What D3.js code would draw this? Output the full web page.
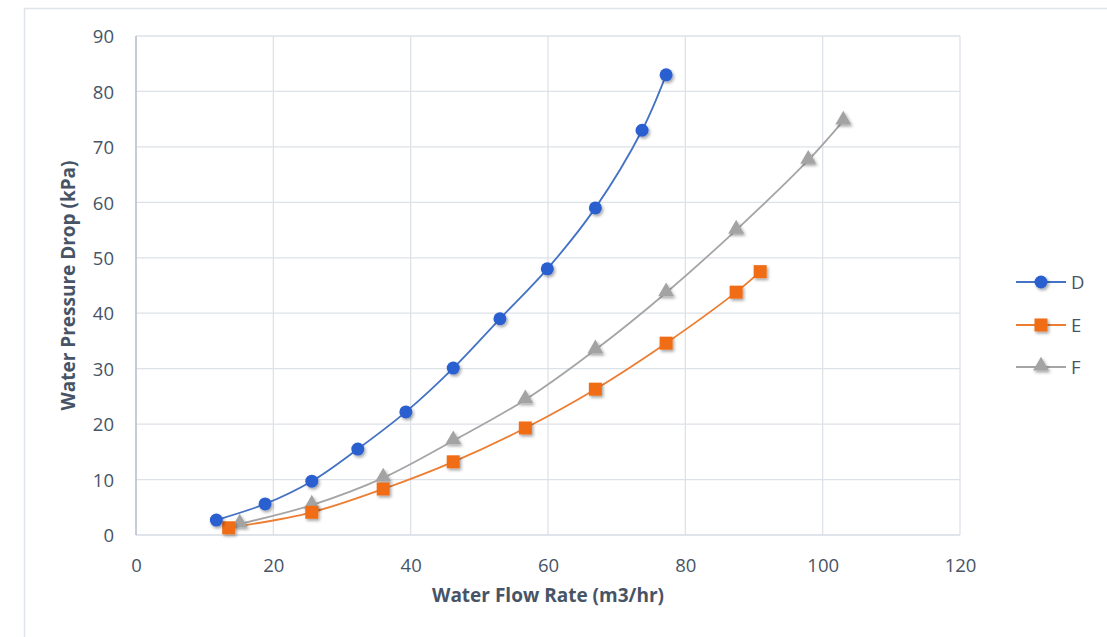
<!DOCTYPE html>
<html><head><meta charset="utf-8">
<script src="https://cdn.jsdelivr.net/npm/d3@7"></script>
<style>body{margin:0;background:#fff;} svg{display:block;}</style>
</head><body>
<svg id="chart" width="1107" height="637"></svg>
<script>
const seriesNames = ["D", "E", "F"];
const dX = [11.7, 18.8, 25.6, 32.3, 39.3, 46.2, 53.0, 59.9, 66.9, 73.7, 77.2];
const dY = [2.7, 5.6, 9.7, 15.5, 22.2, 30.1, 39.0, 48.0, 59.0, 73.0, 83.0];
const eX = [13.5, 25.6, 36.0, 46.2, 56.7, 66.9, 77.2, 87.4, 90.9];
const eY = [1.3, 4.1, 8.3, 13.2, 19.3, 26.3, 34.6, 43.8, 47.5];
const fX = [15.1, 25.6, 36.0, 46.2, 56.7, 66.9, 77.2, 87.4, 97.9, 103.0];
const fY = [2.0, 5.4, 10.3, 17.0, 24.4, 33.4, 43.7, 55.0, 67.6, 74.7];
const xTicks = [0, 20, 40, 60, 80, 100, 120];
const yTicks = [0, 10, 20, 30, 40, 50, 60, 70, 80, 90];
const xTitle = "Water Flow Rate (m3/hr)";
const yTitle = "Water Pressure Drop (kPa)";

const styles = {
  D: {line: "#4472C4", fill: "#2a5ed0", shape: "circle"},
  E: {line: "#ED7D31", fill: "#f06d14", shape: "square"},
  F: {line: "#A5A5A5", fill: "#a3a3a3", shape: "triangle"}
};
const data = [
  {name: "D", pts: dX.map((x, i) => [x, dY[i]])},
  {name: "E", pts: eX.map((x, i) => [x, eY[i]])},
  {name: "F", pts: fX.map((x, i) => [x, fY[i]])}
];

const svg = d3.select("#chart");
const font = "'Open Sans', Lato, sans-serif";
const textCol = "#475466";

// outer border
svg.append("rect").attr("x", 24.5).attr("y", 8.5).attr("width", 1200).attr("height", 700)
  .attr("fill", "none").attr("stroke", "#dfe4ea").attr("stroke-width", 1.5);

const L = 136, R = 960, T = 36, B = 535;
const x = d3.scaleLinear().domain([0, 120]).range([L, R]);
const y = d3.scaleLinear().domain([0, 90]).range([B, T]);

const defs = svg.append("defs");
const f = defs.append("filter").attr("id", "sh").attr("x", "-50%").attr("y", "-50%").attr("width", "200%").attr("height", "200%");
f.append("feDropShadow").attr("dx", 1.5).attr("dy", 2).attr("stdDeviation", 1.6).attr("flood-color", "#000").attr("flood-opacity", 0.35);

// grid
const g = svg.append("g");
g.selectAll(".hg").data(yTicks.filter(d => d > 0)).join("line")
  .attr("x1", L).attr("x2", R).attr("y1", d => y(d)).attr("y2", d => y(d))
  .attr("stroke", "#dde2e9").attr("stroke-width", 1.3);
g.selectAll(".vg").data(xTicks.filter(d => d > 0)).join("line")
  .attr("y1", T).attr("y2", B).attr("x1", d => x(d)).attr("x2", d => x(d))
  .attr("stroke", "#dde2e9").attr("stroke-width", 1.3);
g.append("line").attr("x1", L).attr("x2", R).attr("y1", B).attr("y2", B)
  .attr("stroke", "#d6dce4").attr("stroke-width", 1.5);
g.append("line").attr("x1", L).attr("x2", L).attr("y1", T).attr("y2", B)
  .attr("stroke", "#b3bccb").attr("stroke-width", 1.5);

// axes labels via d3 axes
const xAxis = svg.append("g").attr("transform", `translate(0,${B})`)
  .call(d3.axisBottom(x).tickValues(xTicks).tickSize(0).tickPadding(22));
const yAxis = svg.append("g").attr("transform", `translate(${L},0)`)
  .call(d3.axisLeft(y).tickValues(yTicks).tickSize(0).tickPadding(22));
[xAxis, yAxis].forEach(a => {
  a.select(".domain").remove();
  a.selectAll("text").attr("font-family", font).attr("font-size", 18.5).attr("fill", textCol);
});
yAxis.selectAll("text").attr("dy", "0.36em");
xAxis.selectAll("text").attr("dy", "0.36em").attr("y", 30);

svg.append("text").attr("x", (L + R) / 2 - 0).attr("y", 597).attr("text-anchor", "middle")
  .attr("dominant-baseline", "middle").attr("font-family", font).attr("font-weight", "bold")
  .attr("font-size", 19).attr("fill", textCol)
  .attr("textLength", 232).attr("lengthAdjust", "spacingAndGlyphs").text(xTitle);
svg.append("text").attr("transform", `translate(70,${(T + B) / 2}) rotate(-90)`)
  .attr("text-anchor", "middle").attr("dominant-baseline", "middle").attr("font-family", font)
  .attr("font-weight", "bold").attr("font-size", 19).attr("fill", textCol)
  .attr("textLength", 250).attr("lengthAdjust", "spacingAndGlyphs").text(yTitle);

const line = d3.line().x(d => x(d[0])).y(d => y(d[1])).curve(d3.curveCatmullRom.alpha(0.5));

function marker(sel, shape, fill) {
  if (shape === "circle") {
    sel.append("circle").attr("r", 6.5).attr("fill", fill);
  } else if (shape === "square") {
    sel.append("rect").attr("x", -6.5).attr("y", -6.5).attr("width", 13).attr("height", 13).attr("fill", fill);
  } else {
    sel.append("path").attr("d", d3.symbol().type(d3.symbolTriangle).size(110)()).attr("fill", fill)
      .attr("transform", "translate(0,-1)");
  }
}

[data[2], data[1], data[0]].forEach(s => {
  const st = styles[s.name];
  svg.append("path").datum(s.pts).attr("d", line).attr("fill", "none")
    .attr("stroke", st.line).attr("stroke-width", 1.8);
});
[data[2], data[1], data[0]].forEach(s => {
  const st = styles[s.name];
  svg.append("g").selectAll("g").data(s.pts).join("g")
    .attr("transform", d => `translate(${x(d[0])},${y(d[1])})`)
    .attr("filter", "url(#sh)")
    .each(function() { marker(d3.select(this), st.shape, st.fill); });
});

// legend
const legY = [282, 325, 367];
seriesNames.forEach((n, i) => {
  const st = styles[n];
  const lg = svg.append("g").attr("transform", `translate(0,${legY[i]})`);
  lg.append("line").attr("x1", 1016).attr("x2", 1066).attr("y1", 0).attr("y2", 0)
    .attr("stroke", st.line).attr("stroke-width", 1.8);
  const m = lg.append("g").attr("transform", "translate(1041,0)").attr("filter", "url(#sh)");
  marker(m, st.shape, st.fill);
  lg.append("text").attr("x", 1071).attr("y", 0).attr("dy", "0.36em")
    .attr("font-family", font).attr("font-size", 18.5).attr("fill", textCol).text(n);
});
</script>
</body></html>
